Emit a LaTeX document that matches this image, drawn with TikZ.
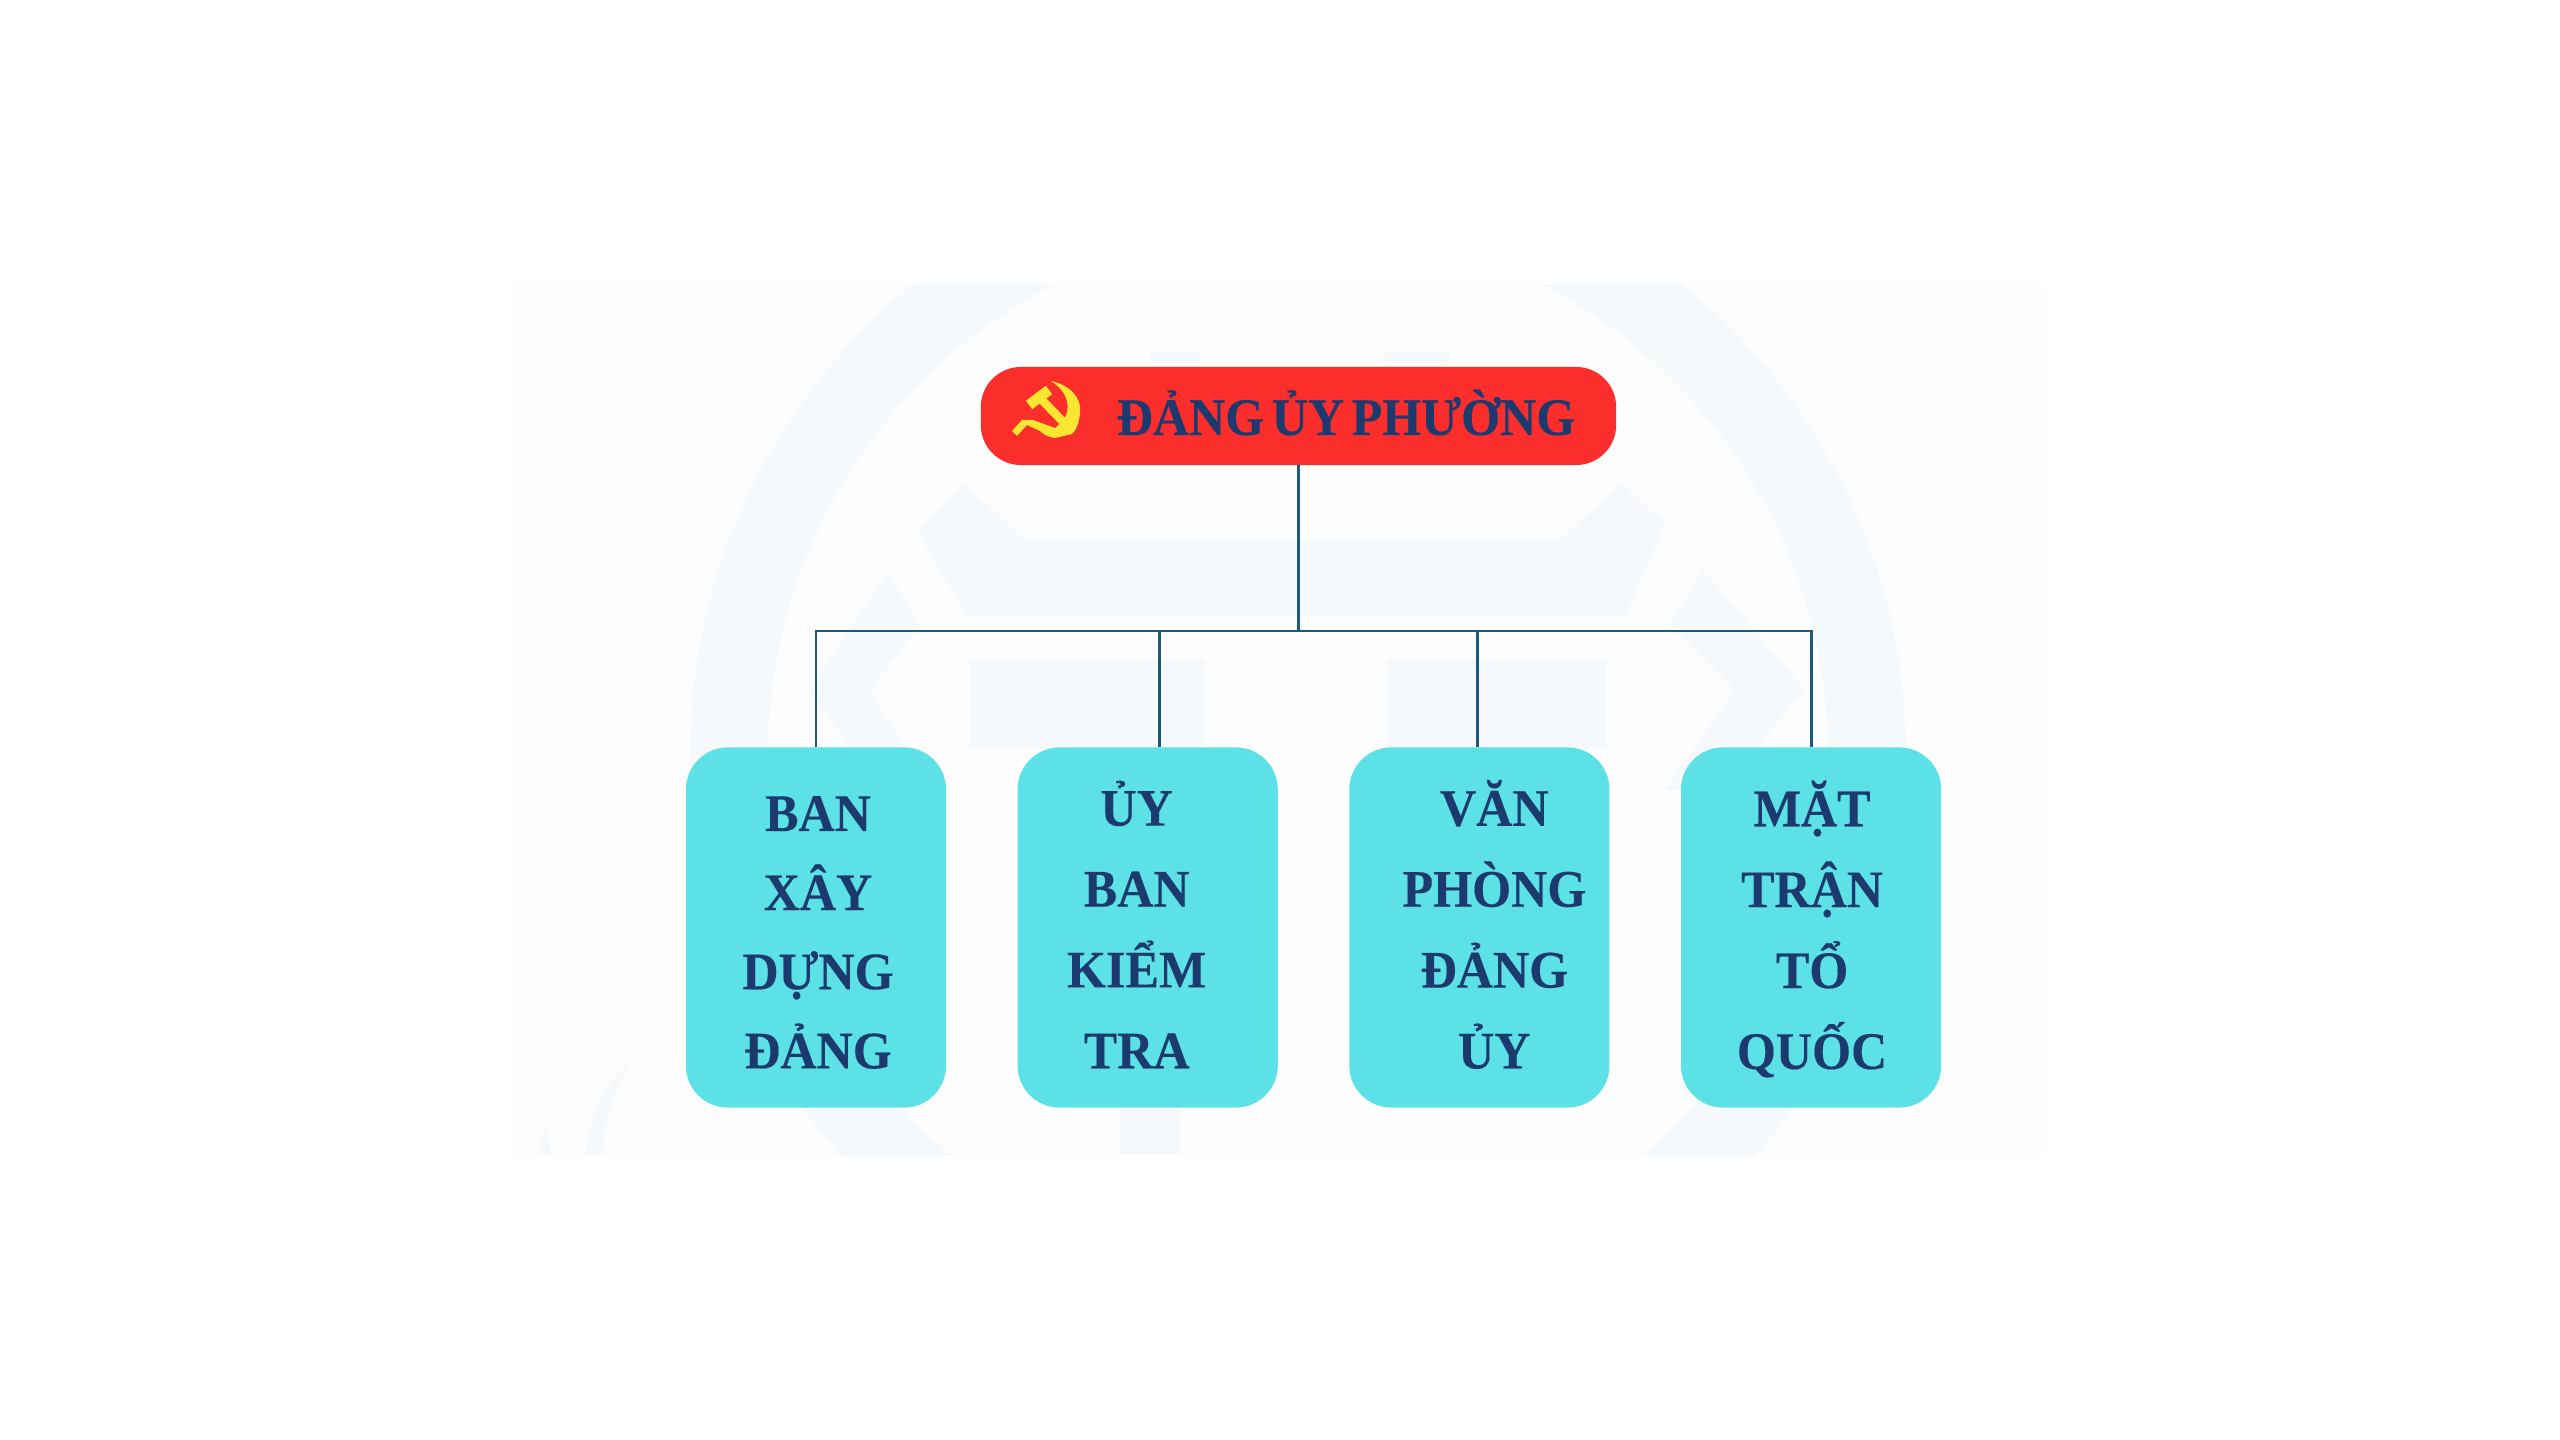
\documentclass[tikz,border=0pt]{standalone}
\usepackage{fontspec}
\setmainfont{Liberation Serif}[FakeStretch=0.95,WordSpace=0.6,FakeBold=0.25]
\usetikzlibrary{positioning}
\definecolor{partyred}{HTML}{FB2E2C}
\definecolor{boxcyan}{HTML}{5CE1E6}
\definecolor{inknavy}{HTML}{1C3A6E}
\definecolor{wireblue}{HTML}{1D5B7C}
\definecolor{emblem}{HTML}{F9E631}
\definecolor{panelbg}{HTML}{FDFDFE}
\definecolor{watermark}{HTML}{F6F9FC}

\begin{document}
\begin{tikzpicture}[x=0.01cm,y=-0.01cm,node distance=0.715cm]
    \tikzstyle{rootbox}=[fill=partyred,rounded corners=0.4cm,minimum width=6.35cm,minimum height=0.98cm,inner sep=0pt,outer sep=0pt]
    \tikzstyle{box}=[fill=boxcyan,rounded corners=0.42cm,minimum width=2.6cm,minimum height=3.6cm,inner sep=0pt,outer sep=0pt]
    \tikzstyle{boxtext}=[text=inknavy,align=center,inner sep=0pt,font=\bfseries\fontsize{15}{23}\selectfont]
    \tikzstyle{wire}=[draw=wireblue,line width=0.8pt]
    \useasboundingbox (0,0) rectangle (2560,1440);

    \fill[white] (0,0) rectangle (2560,1440);
    \fill[panelbg] (510,285) rectangle (2045,1155);
    \begin{scope}
        \clip (510,285) rectangle (2045,1155);
        \fill[watermark,even odd rule] (1298,755) circle (608) (1298,755) circle (530);
        \fill[watermark] (964,483) -- (918,533) -- (968,617) -- (1625,617) -- (1665,523) -- (1621,483) -- (1560,540) -- (1025,540) -- cycle;
        \fill[watermark] (888,573) -- (810,690) -- (880,790) -- (930,790) -- (870,690) -- (920,625) -- cycle;
        \fill[watermark] (1703,570) -- (1670,625) -- (1735,690) -- (1665,790) -- (1720,790) -- (1805,690) -- cycle;
        \fill[watermark] (970,660) rectangle (1205,748);
        \fill[watermark] (1387,660) rectangle (1606,748);
        \fill[watermark] (1180,1108) rectangle (1120,1155);
        \fill[watermark] (1150,353) rectangle (1200,362);
        \fill[watermark] (1385,353) rectangle (1450,362);
        \fill[watermark] (633,1060) .. controls (600,1085) and (590,1120) .. (585,1155) -- (602,1155) .. controls (605,1120) and (615,1090) .. (633,1060) -- cycle;
        \fill[watermark] (545,1125) -- (538,1155) -- (552,1155) -- cycle;
    \end{scope}

    \node[rootbox] (root) at (1298.5,416) {};
    \node[box] (b1) at (816,927.5) {};
    \node[box,right=of b1] (b2) {};
    \node[box,right=of b2] (b3) {};
    \node[box,right=of b3] (b4) {};
    \coordinate (bus) at (1298.5,631);

    \draw[wire] (root.south) -- (bus);
    \draw[wire] (b1.north) |- (bus) -| (b4.north);
    \draw[wire] ([xshift=0.115cm]b2.north) -- ([xshift=0.115cm]b2.north |- bus);
    \draw[wire] ([xshift=-0.02cm]b3.north) -- ([xshift=-0.02cm]b3.north |- bus);

    \node[boxtext,anchor=base] (roottext) at (1346,435) {ĐẢNG ỦY PHƯỜNG};
    \node[boxtext,font=\bfseries\fontsize{15}{22.5}\selectfont] (t1) at ([xshift=0.02cm,yshift=-0.05cm]b1.center) {BAN\\XÂY\\DỰNG\\ĐẢNG};
    \node[boxtext] (t2) at ([xshift=-0.11cm,yshift=0.03cm]b2.center) {ỦY\\BAN\\KIỂM\\TRA};
    \node[boxtext] (t3) at ([xshift=0.15cm,yshift=0.03cm]b3.center) {VĂN\\PHÒNG\\ĐẢNG\\ỦY};
    \node[boxtext] (t4) at ([xshift=0.01cm,yshift=-0.015cm]b4.center) {MẶT\\TRẬN\\TỔ\\QUỐC};

    \fill[emblem] (1051,381) .. controls (1070,385) and (1082,398) .. (1080,413) .. controls (1079,425) and (1075,431) .. (1072,434) -- (1055,438) .. controls (1047,437) and (1043,434) .. (1040,431) -- (1027,425) -- (1017,436) -- (1012,431) -- (1022,420) -- (1033,420) -- (1055,428) -- (1063,421) .. controls (1072,408) and (1068,392) .. (1051,381) -- cycle;
    \draw[emblem,line width=3pt] (1029,405) -- (1049,390);
    \draw[emblem,line width=2.4pt] (1040,398) -- (1073,432);
\end{tikzpicture}
\end{document}
